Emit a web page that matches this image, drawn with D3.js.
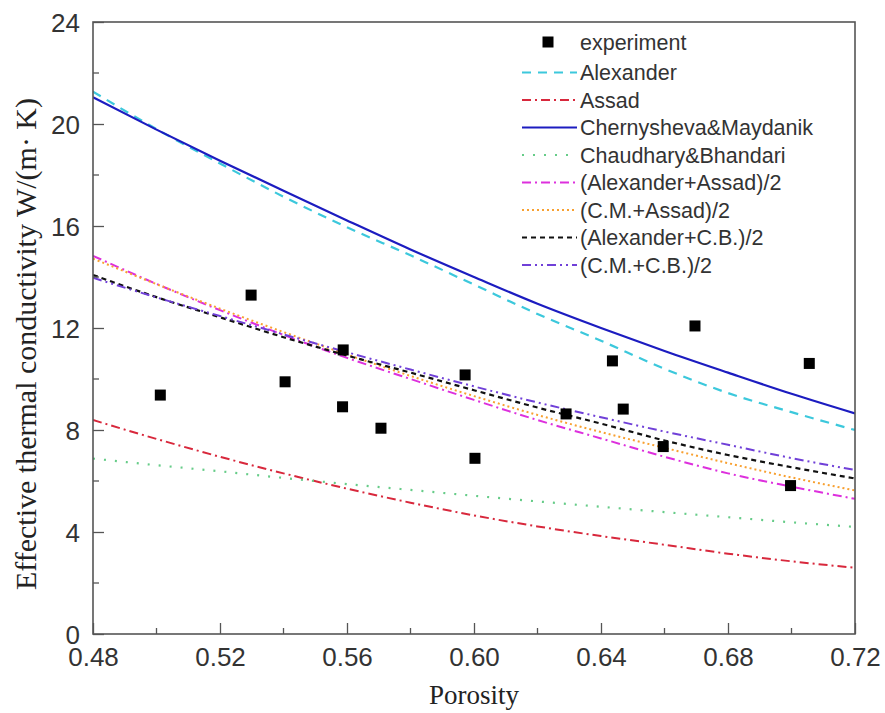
<html>
  <head>
    <script type="text/javascript" src="https://d3js.org/d3.v7.min.js"></script>
    <style>
      body { margin: 0; background: #fff; }
    </style>
  </head>
  <body>
    <script>
        // porosity grid for the model curves
        var porosity = [0.48, 0.50, 0.52, 0.54, 0.56, 0.58, 0.60, 0.62, 0.64, 0.66, 0.68, 0.70, 0.72];

        // model curves
        var alexander  = [21.27, 19.80, 18.45, 17.15, 15.95, 14.85, 13.70, 12.55, 11.50, 10.40, 9.45, 8.70, 8.00];
        var assad      = [8.39, 7.65, 6.95, 6.30, 5.70, 5.15, 4.65, 4.22, 3.84, 3.50, 3.15, 2.85, 2.60];
        var chernMayd  = [21.05, 19.78, 18.56, 17.38, 16.22, 15.08, 14.00, 12.95, 12.00, 11.10, 10.25, 9.42, 8.65];
        var chaudBhand = [6.88, 6.62, 6.38, 6.12, 5.88, 5.65, 5.42, 5.20, 4.99, 4.78, 4.58, 4.38, 4.20];
        var alexAssad  = [14.83, 13.73, 12.70, 11.73, 10.83, 10.00, 9.18, 8.39, 7.67, 6.95, 6.30, 5.78, 5.30];
        var cmAssad    = [14.72, 13.72, 12.76, 11.84, 10.96, 10.12, 9.33, 8.59, 7.92, 7.30, 6.70, 6.14, 5.63];
        var alexCB     = [14.08, 13.21, 12.42, 11.64, 10.92, 10.25, 9.56, 8.88, 8.25, 7.59, 7.02, 6.54, 6.10];
        var cmCB       = [13.97, 13.20, 12.47, 11.75, 11.05, 10.37, 9.71, 9.08, 8.50, 7.94, 7.42, 6.90, 6.43];

        // experiment points
        var expPorosity = [0.5012, 0.5298, 0.5405, 0.5588, 0.5586, 0.5707, 0.5972, 0.6003, 0.6290, 0.6436, 0.6470, 0.6596, 0.6696, 0.6997, 0.7056];
        var expValue    = [9.37, 13.29, 9.89, 11.14, 8.91, 8.07, 10.16, 6.89, 8.63, 10.71, 8.82, 7.35, 12.08, 5.82, 10.61];

        // axis ticks
        var xTicks = [0.48, 0.52, 0.56, 0.60, 0.64, 0.68, 0.72];
        var xMinor = [0.50, 0.54, 0.58, 0.62, 0.66, 0.70];
        var yTicks = [0, 4, 8, 12, 16, 20, 24];
        var yMinor = [2, 6, 10, 14, 18, 22];

        var series = [
            {name: "Alexander", values: alexander, color: "#3cc8dc", dash: "9,7", width: 2.2},
            {name: "Assad", values: assad, color: "#d8283c", dash: "9,4,2,4", width: 2},
            {name: "Chernysheva&Maydanik", values: chernMayd, color: "#1c1cc0", dash: null, width: 2.2},
            {name: "Chaudhary&Bhandari", values: chaudBhand, color: "#66cc88", dash: "2,9", width: 2.2},
            {name: "(Alexander+Assad)/2", values: alexAssad, color: "#dd30dd", dash: "9,4,2,4", width: 2},
            {name: "(C.M.+Assad)/2", values: cmAssad, color: "#f8a030", dash: "2,3", width: 2},
            {name: "(Alexander+C.B.)/2", values: alexCB, color: "#111111", dash: "5,4", width: 2.2},
            {name: "(C.M.+C.B.)/2", values: cmCB, color: "#7040d8", dash: "9,4,2,4,2,4", width: 2}
        ];

        var width = 885, height = 713;
        var margin = {left: 93, right: 855, top: 22, bottom: 634};

        var x = d3.scaleLinear().domain([0.48, 0.72]).range([margin.left, margin.right]);
        var y = d3.scaleLinear().domain([0, 24]).range([margin.bottom, margin.top]);

        var svg = d3.select("body").append("svg")
            .attr("width", width)
            .attr("height", height);

        // clip so curves stay in the frame
        svg.append("clipPath").attr("id", "plot")
          .append("rect")
            .attr("x", margin.left).attr("y", margin.top)
            .attr("width", margin.right - margin.left).attr("height", margin.bottom - margin.top);

        var line = d3.line()
            .x(function(d) { return x(d[0]); })
            .y(function(d) { return y(d[1]); })
            .curve(d3.curveMonotoneX);

        var curves = svg.append("g").attr("clip-path", "url(#plot)");
        series.forEach(function(s) {
            curves.append("path")
                .datum(porosity.map(function(p, i) { return [p, s.values[i]]; }))
                .attr("d", line)
                .attr("fill", "none")
                .attr("stroke", s.color)
                .attr("stroke-width", s.width)
                .attr("stroke-dasharray", s.dash);
        });

        // experiment markers
        svg.append("g").selectAll("rect")
            .data(expPorosity.map(function(p, i) { return [p, expValue[i]]; }))
            .enter().append("rect")
              .attr("x", function(d) { return x(d[0]) - 5.5; })
              .attr("y", function(d) { return y(d[1]) - 5.5; })
              .attr("width", 11).attr("height", 11)
              .attr("fill", "#000");

        // axes with inward ticks
        var xAxis = d3.axisBottom(x).tickValues(xTicks).tickFormat(d3.format(".2f"))
            .tickSizeInner(-11).tickSizeOuter(0).tickPadding(14);
        var gx = svg.append("g").attr("transform", "translate(0," + margin.bottom + ")").call(xAxis);
        var yAxis = d3.axisLeft(y).tickValues(yTicks).tickFormat(d3.format("d"))
            .tickSizeInner(-11).tickSizeOuter(0).tickPadding(13);
        var gy = svg.append("g").attr("transform", "translate(" + margin.left + ",0)").call(yAxis);

        [gx, gy].forEach(function(g) {
            g.select(".domain").remove();
            g.selectAll("line").attr("stroke", "#555").attr("stroke-width", 1.3);
            g.selectAll("text")
                .attr("fill", "#333")
                .style("font-family", "'Liberation Sans', Arial, sans-serif")
                .style("font-size", "26px");
        });
        gy.selectAll("text").attr("dy", "0.36em");

        svg.append("g").selectAll("line").data(xMinor).enter().append("line")
            .attr("x1", x).attr("x2", x)
            .attr("y1", margin.bottom).attr("y2", margin.bottom - 6)
            .attr("stroke", "#555").attr("stroke-width", 1.3);
        svg.append("g").selectAll("line").data(yMinor).enter().append("line")
            .attr("y1", y).attr("y2", y)
            .attr("x1", margin.left).attr("x2", margin.left + 6)
            .attr("stroke", "#555").attr("stroke-width", 1.3);

        // frame
        svg.append("rect")
            .attr("x", margin.left).attr("y", margin.top)
            .attr("width", margin.right - margin.left).attr("height", margin.bottom - margin.top)
            .attr("fill", "none").attr("stroke", "#555").attr("stroke-width", 1.6);

        // axis titles
        svg.append("text")
            .attr("x", (margin.left + margin.right) / 2).attr("y", 704)
            .attr("text-anchor", "middle")
            .style("font-family", "'Liberation Serif', 'Times New Roman', serif")
            .style("font-size", "27px")
            .attr("fill", "#222")
            .text("Porosity");

        svg.append("text")
            .attr("transform", "translate(36,344) rotate(-90)")
            .attr("text-anchor", "middle")
            .style("font-family", "'Liberation Serif', 'Times New Roman', serif")
            .style("font-size", "30px")
            .attr("fill", "#222")
            .text("Effective thermal conductivity W/(m\u00b7 K)");

        // legend
        var legend = svg.append("g").style("font-family", "'Liberation Sans', Arial, sans-serif")
            .style("font-size", "21.5px");
        var legX = 522, legText = 580, legY0 = 42, legY1 = 72.5, legStep = 27.5;

        legend.append("rect")
            .attr("x", 548 - 5.5).attr("y", legY0 - 5.5)
            .attr("width", 11).attr("height", 11).attr("fill", "#000");
        legend.append("text")
            .attr("x", legText).attr("y", legY0).attr("dy", "0.35em")
            .attr("fill", "#333")
            .text("experiment");

        series.forEach(function(s, i) {
            var ly = legY1 + i * legStep;
            legend.append("line")
                .attr("x1", legX).attr("x2", legText - 3)
                .attr("y1", ly).attr("y2", ly)
                .attr("stroke", s.color)
                .attr("stroke-width", s.width)
                .attr("stroke-dasharray", s.dash);
            legend.append("text")
                .attr("x", legText).attr("y", ly).attr("dy", "0.35em")
                .attr("fill", "#333")
                .text(s.name);
        });
    </script>
  </body>
</html>
